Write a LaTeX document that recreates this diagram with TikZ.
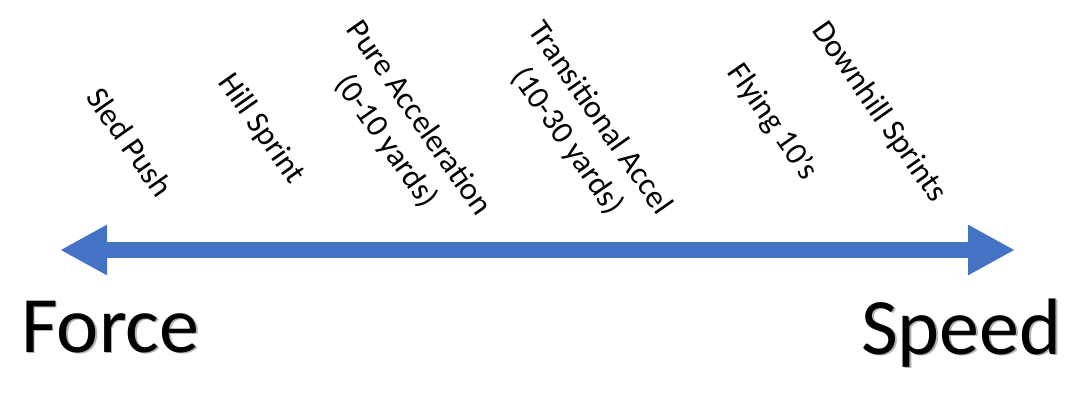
\documentclass[tikz,border=0pt]{standalone}
\usepackage{fontspec}
\setmainfont{Carlito}
\usetikzlibrary{arrows.meta}
\definecolor{arrowblue}{HTML}{4472C4}
\newcommand{\shadowtext}[1]{\rlap{\hspace{1.8pt}\raisebox{-1.8pt}{\color{black!30}#1}}#1}
\begin{document}
\begin{tikzpicture}[x=1pt,y=-1pt,
  lbl/.style={rotate=-55, inner sep=0pt, font=\fontsize{32}{40}\selectfont, align=center},
  big/.style={anchor=base west, inner sep=0pt, font=\fontsize{80}{96}\selectfont},
  axis/.style={arrowblue, line width=16pt, {Triangle[length=47pt,width=47pt]}-{Triangle[length=47pt,width=47pt]}}]
\useasboundingbox (0,0) rectangle (1082,404);
\coordinate (L) at (60,250);
\coordinate (R) at (1015,250);
\draw[axis] (L) -- (R);
\node[lbl] (sled) at (130,142) {Sled Push};
\node[lbl] (hill) at (261,129) {Hill Sprint};
\node[lbl] (pure) at (402,130) {Pure Acceleration\\(0-10 yards)};
\node[lbl] (trans) at (583,130) {Transitional Accel\\(10-30 yards)};
\node[lbl] (fly) at (772,122) {Flying 10’s};
\node[lbl] (down) at (879,112) {Downhill Sprints};
\node[big] (force) at (21,352) {\shadowtext{Force}};
\node[big] (speed) at (861,354) {\shadowtext{Speed}};
\end{tikzpicture}
\end{document}
